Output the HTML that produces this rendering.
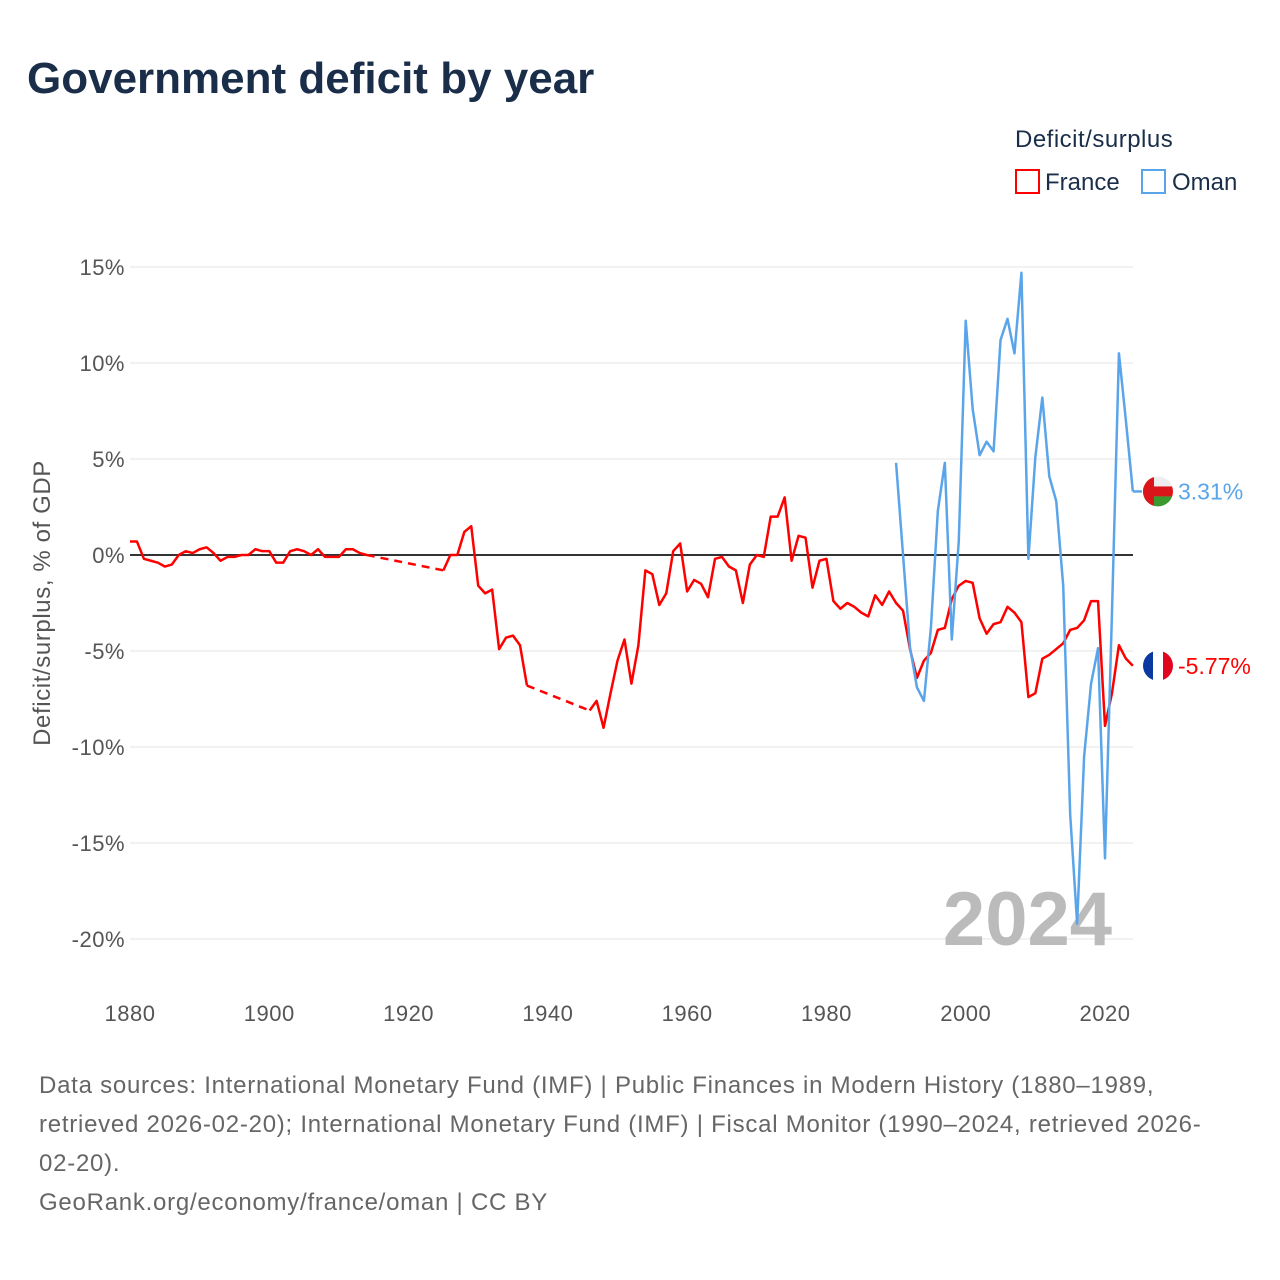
<!DOCTYPE html>
<html><head><meta charset="utf-8"><style>
body{margin:0;background:#fff;font-family:"Liberation Sans",sans-serif;}
#wrap{position:relative;width:1280px;height:1280px;overflow:hidden;}
</style></head><body>
<div id="wrap">
<svg id="chart" width="1280" height="1280" style="position:absolute;left:0;top:0"></svg>
</div>
<script>
const franceYears=[];for(let y=1880;y<=2024;y++)franceYears.push(y);
const franceValues=[0.7,0.7,-0.2,-0.3,-0.4,-0.6,-0.5,0,0.2,0.1,0.3,0.4,0.1,-0.3,-0.1,-0.1,0,0,0.3,0.2,0.2,-0.4,-0.4,0.2,0.3,0.2,0,0.3,-0.1,-0.1,-0.1,0.3,0.3,0.1,0,
null,null,null,null,null,null,null,null,null,null,-0.8,0,0,1.2,1.5,-1.6,-2.0,-1.8,-4.9,-4.3,-4.2,-4.7,-6.8,
null,null,null,null,null,null,null,null,-8.1,-7.6,-9.0,-7.2,-5.5,-4.4,-6.7,-4.7,-0.8,-1.0,-2.6,-2.0,0.2,0.6,-1.9,-1.3,-1.5,-2.2,-0.2,-0.1,-0.6,-0.8,-2.5,-0.5,0,-0.1,2.0,2.0,3.0,-0.3,1.0,0.9,-1.7,-0.3,-0.2,-2.4,-2.8,-2.5,-2.7,-3.0,-3.2,-2.1,-2.6,-1.9,
-2.5,-2.9,-4.9,-6.4,-5.5,-5.1,-3.9,-3.8,-2.3,-1.6,-1.35,-1.45,-3.3,-4.1,-3.6,-3.5,-2.7,-3.0,-3.5,-7.4,-7.2,-5.4,-5.2,-4.9,-4.6,-3.9,-3.8,-3.4,-2.4,-2.4,-8.9,-7.2,-4.7,-5.4,-5.77];
const omanYears=[];for(let y=1990;y<=2024;y++)omanYears.push(y);
const omanValues=[4.8,0,-4.8,-6.9,-7.6,-3.8,2.3,4.8,-4.4,0.7,12.2,7.6,5.2,5.9,5.4,11.2,12.3,10.5,14.7,-0.2,5.1,8.2,4.1,2.8,-1.6,-13.5,-19.2,-10.5,-6.7,-4.85,-15.8,-3,10.5,7.0,3.31];
const yTicks=[15,10,5,0,-5,-10,-15,-20];
const xTicks=[1880,1900,1920,1940,1960,1980,2000,2020];

const svg=document.getElementById('chart');const NS='http://www.w3.org/2000/svg';
const X=y=>130+(y-1880)*(975/140);
const Y=v=>555-v*19.2;
function el(t,a,p){const e=document.createElementNS(NS,t);for(const k in a)e.setAttribute(k,a[k]);(p||svg).appendChild(e);return e;}
function txt(s,a){const e=el('text',a);e.textContent=s;return e;}

const title=txt('Government deficit by year',{x:27,y:93,'font-size':44,'font-weight':'bold',fill:'#1a2e4a'});


yTicks.forEach(t=>{
 const g=el('line',{x1:130,x2:1133,y1:Y(t),y2:Y(t),stroke:t===0?'#333':'#e6e6e6','stroke-width':t===0?2:1});
 
 const l=txt(t+'%',{x:125,y:Y(t)+8,'text-anchor':'end','font-size':22,fill:'#555','letter-spacing':0.5});
 
});
xTicks.forEach(t=>{
 const l=txt(String(t),{x:X(t),y:1021,'text-anchor':'middle','font-size':22,fill:'#555','letter-spacing':0.5});
 
});
const yt=txt('Deficit/surplus, % of GDP',{x:0,y:0,'text-anchor':'middle','font-size':24,fill:'#555','letter-spacing':0.6,transform:'translate(50,603) rotate(-90)'});


const yr=txt('2024',{x:1112,y:945,'text-anchor':'end','font-size':76,'font-weight':'bold',fill:'#bbb'});


function series(years,vals,color,name){
 let segs=[],cur=[],last=null,gaps=[];
 years.forEach((y,i)=>{const v=vals[i];if(v===null){if(cur.length){segs.push(cur);cur=[];}}else{if(last&&last.gap)gaps.push([last.p,[X(y),Y(v)]]);cur.push([X(y),Y(v)]);last={p:[X(y),Y(v)],gap:false};}
  if(v===null&&last)last.gap=true;});
 if(cur.length)segs.push(cur);
 segs.forEach(s=>{const p=el('polyline',{points:s.map(q=>q.join(',')).join(' '),fill:'none',stroke:color,'stroke-width':2.5,'stroke-linejoin':'round'});
  });
 gaps.forEach(g=>{const p=el('line',{x1:g[0][0],y1:g[0][1],x2:g[1][0],y2:g[1][1],stroke:color,'stroke-width':2.5,'stroke-dasharray':'8,6'});
  });
}
series(franceYears,franceValues,'#ff0000','france');
series(omanYears,omanValues,'#5aa5ea','oman');
const oLast=omanValues[omanValues.length-1],fLast=franceValues[franceValues.length-1];
const ext=el('line',{x1:X(2024),x2:1142,y1:Y(oLast),y2:Y(oLast),stroke:'#5aa5ea','stroke-width':2.5});


const oy=Y(oLast),fy=Y(fLast);
const defs=el('defs',{});
const c1=el('clipPath',{id:'co'},defs);el('circle',{cx:1158,cy:oy,r:15},c1);
const c2=el('clipPath',{id:'cf'},defs);el('circle',{cx:1158,cy:fy,r:15},c2);
const og=el('g',{'clip-path':'url(#co)'});
el('rect',{x:1143,y:oy-15,width:30,height:10,fill:'#eee'},og);
el('rect',{x:1143,y:oy-5,width:30,height:10,fill:'#db161b'},og);
el('rect',{x:1143,y:oy+5,width:30,height:10,fill:'#3a9a2f'},og);
el('rect',{x:1143,y:oy-15,width:11,height:30,fill:'#db161b'},og);
const fg=el('g',{'clip-path':'url(#cf)'});
el('rect',{x:1143,y:fy-15,width:10,height:30,fill:'#0a3aa0'},fg);
el('rect',{x:1153,y:fy-15,width:10,height:30,fill:'#fff'},fg);
el('rect',{x:1163,y:fy-15,width:10,height:30,fill:'#e1061f'},fg);
const ol=txt(oLast.toFixed(2)+'%',{x:1178,y:oy+8,'font-size':23,fill:'#5aa5ea'});
const fl=txt(fLast.toFixed(2)+'%',{x:1178,y:fy+8,'font-size':23,fill:'#ff0000'});

const lt=txt('Deficit/surplus',{x:1015,y:147,'font-size':24,fill:'#1a2e4a','letter-spacing':0.5});
const lb1=el('rect',{x:1016,y:170,width:23,height:23,fill:'none',stroke:'#ff0000','stroke-width':2});
const l1=txt('France',{x:1045,y:190,'font-size':24,fill:'#1a2e4a'});
const lb2=el('rect',{x:1142,y:170,width:23,height:23,fill:'none',stroke:'#5aa5ea','stroke-width':2});
const l2=txt('Oman',{x:1172,y:190,'font-size':24,fill:'#1a2e4a'});

['Data sources: International Monetary Fund (IMF) | Public Finances in Modern History (1880–1989,','retrieved 2026-02-20); International Monetary Fund (IMF) | Fiscal Monitor (1990–2024, retrieved 2026-','02-20).','GeoRank.org/economy/france/oman | CC BY'].forEach((s,i)=>{
 const f=txt(s,{x:39,y:1093+i*39,'font-size':24,fill:'#666','letter-spacing':0.75});
 
});
</script>
</body></html>
